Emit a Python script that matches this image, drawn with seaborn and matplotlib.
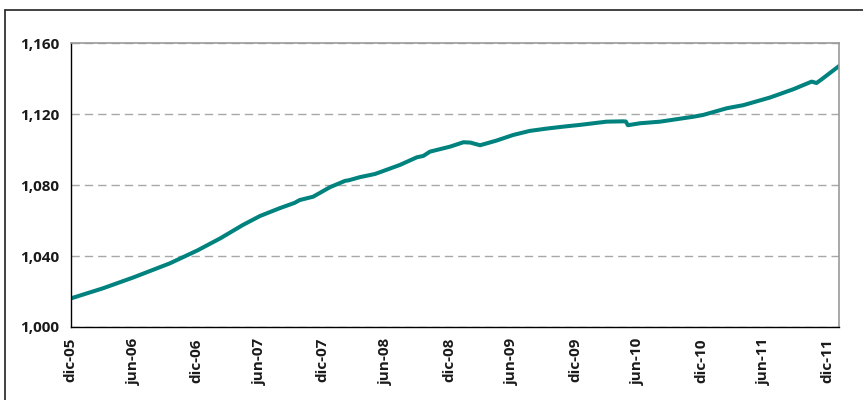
import matplotlib
matplotlib.use("Agg")
import matplotlib.pyplot as plt
from matplotlib.lines import Line2D
from matplotlib.ticker import FuncFormatter
import seaborn as sns
import pandas as pd

# ---- data ----
dates = [
    "2005-12-01", "2006-03-04", "2006-06-01", "2006-09-14", "2006-12-03",
    "2007-02-07", "2007-04-13", "2007-06-02", "2007-07-29", "2007-09-10",
    "2007-09-25", "2007-11-03", "2007-12-21", "2008-02-03", "2008-02-15",
    "2008-03-17", "2008-04-30", "2008-07-11", "2008-08-29", "2008-09-17",
    "2008-10-06", "2008-12-03", "2009-01-11", "2009-01-31", "2009-02-28",
    "2009-04-16", "2009-06-04", "2009-07-22", "2009-09-09", "2009-10-27",
    "2009-12-15", "2010-03-01", "2010-04-18", "2010-04-26", "2010-05-02",
    "2010-06-06", "2010-08-03", "2010-11-08", "2010-12-06", "2011-02-13",
    "2011-04-01", "2011-06-17", "2011-08-24", "2011-10-16", "2011-10-30",
    "2011-11-14", "2012-01-04",
]
values = [
    1016.1, 1021.8, 1028.0, 1035.9, 1043.2,
    1050.0, 1057.5, 1062.6, 1067.0, 1070.0,
    1071.6, 1073.5, 1078.8, 1082.4, 1082.8,
    1084.5, 1086.3, 1091.4, 1095.7, 1096.5,
    1098.9, 1101.7, 1104.2, 1104.0, 1102.5,
    1105.1, 1108.3, 1110.6, 1111.9, 1113.0,
    1114.0, 1115.8, 1116.0, 1115.9, 1113.8,
    1114.9, 1115.8, 1118.6, 1119.6, 1123.4,
    1125.1, 1129.4, 1134.1, 1138.4, 1137.6,
    1139.7, 1147.3,
]
y_ticks = [1000, 1040, 1080, 1120, 1160]
tick_dates = ["2005-12-01", "2006-06-01", "2006-12-01", "2007-06-01", "2007-12-01",
              "2008-06-01", "2008-12-01", "2009-06-01", "2009-12-01", "2010-06-01",
              "2010-12-01", "2011-06-01", "2011-12-01"]
tick_labels = ["dic-05", "jun-06", "dic-06", "jun-07", "dic-07", "jun-08", "dic-08",
               "jun-09", "dic-09", "jun-10", "dic-10", "jun-11", "dic-11"]

df = pd.DataFrame({"fecha": pd.to_datetime(dates), "valor": values})

sns.set_style("white")
plt.rcParams["font.family"] = ["Open Sans", "DejaVu Sans"]

fig = plt.figure(figsize=(8.63, 4.00), dpi=100)
ax = fig.add_axes([70.7 / 863, 1 - 327 / 400, (839.3 - 70.7) / 863, (327 - 43.3) / 400])

sns.lineplot(data=df, x="fecha", y="valor", ax=ax, color="#00827e", linewidth=2.9)

ax.set_xlim(pd.Timestamp("2005-12-01"), pd.Timestamp("2012-01-04"))
ax.set_ylim(1000, 1160)
ax.set_yticks(y_ticks)
ax.yaxis.set_major_formatter(FuncFormatter(lambda v, p: f"{int(v):,}"))
ax.set_xticks(pd.to_datetime(tick_dates))
ax.set_xticklabels(tick_labels, rotation=90)

ax.set_xlabel("")
ax.set_ylabel("")

ax.yaxis.grid(True, color="#a8a8a8", linewidth=1.0, linestyle=(0, (6, 3.6)))
ax.xaxis.grid(False)
ax.set_axisbelow(True)

for s in ["left", "bottom"]:
    ax.spines[s].set_color("black")
    ax.spines[s].set_linewidth(1.0)
for s in ["top", "right"]:
    ax.spines[s].set_color("#9a9a9a")
    ax.spines[s].set_linewidth(1.2)
    ax.spines[s].set_visible(True)

ax.tick_params(axis="both", which="major", direction="out", length=5, width=1,
               color="black", labelsize=11, pad=3)
for lab in ax.get_xticklabels() + ax.get_yticklabels():
    lab.set_fontweight("bold")
    lab.set_color("#1a1a1a")

# outer frame (top and left edges visible)
fig.add_artist(Line2D([4.5 / 863, 1.0], [1 - 10 / 400, 1 - 10 / 400],
                      transform=fig.transFigure, color="#333333", linewidth=1.3))
fig.add_artist(Line2D([4.5 / 863, 4.5 / 863], [0.0, 1 - 10 / 400],
                      transform=fig.transFigure, color="#333333", linewidth=1.3))

fig.savefig("out.png", dpi=100)
